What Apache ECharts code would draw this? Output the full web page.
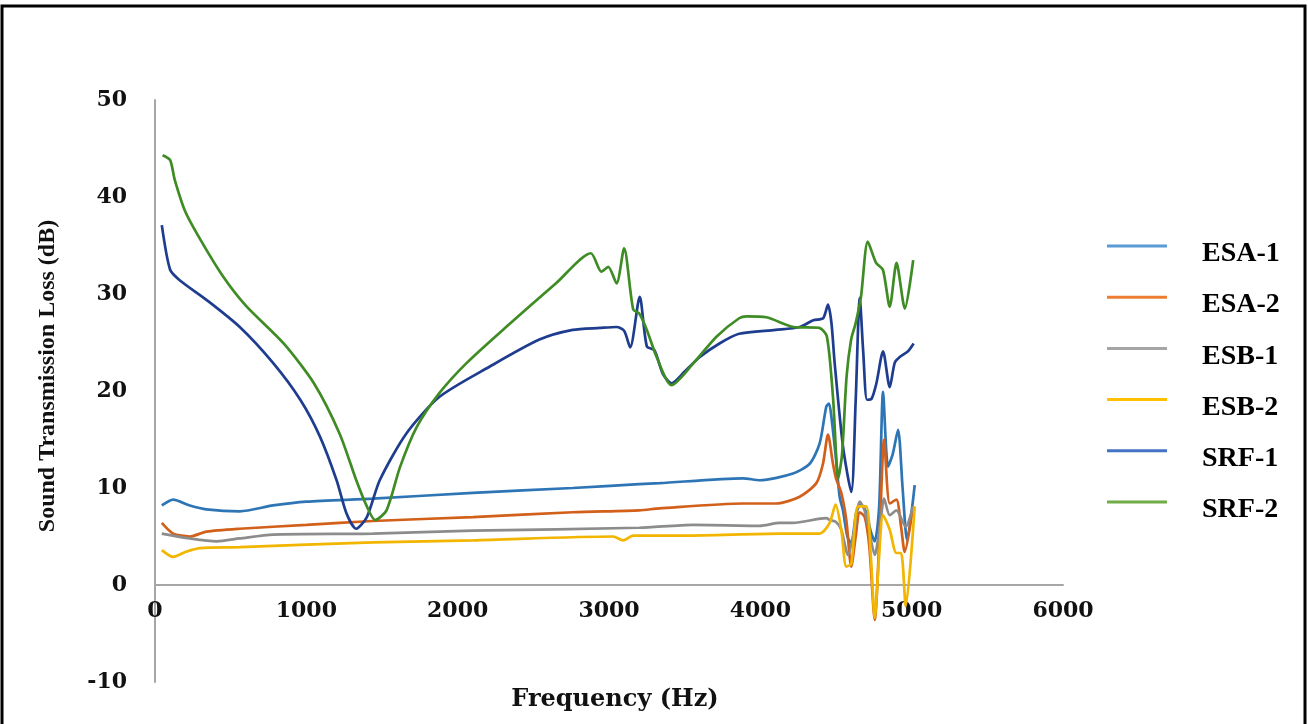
<!DOCTYPE html>
<html>
<head>
<meta charset="utf-8">
<script src="https://cdn.jsdelivr.net/npm/echarts@6/dist/echarts.min.js"></script>
<style>html,body{margin:0;padding:0;background:#fff}#c{width:1308px;height:724px}</style>
</head>
<body>
<div id="c"></div>
<script>
// ---- data ----
const seriesNames = ['ESA-1', 'ESA-2', 'ESB-1', 'ESB-2', 'SRF-1', 'SRF-2'];
const xTicks = [0, 1000, 2000, 3000, 4000, 5000, 6000];
const yTicks = [-10, 0, 10, 20, 30, 40, 50];

const esa1Freq = [45, 120, 230, 340, 560, 780, 1000, 1440, 2100, 2760, 3200, 3335, 3886, 3996, 4216, 4326, 4392, 4436, 4454, 4469, 4500, 4524, 4546, 4575, 4601, 4634, 4665, 4700, 4730, 4756, 4785, 4811, 4844, 4875, 4910, 4940, 4970, 5020];
const esa1Val  = [8.2, 8.8, 8.2, 7.8, 7.6, 8.2, 8.6, 8.9, 9.5, 10.0, 10.4, 10.5, 11.0, 10.8, 11.5, 12.5, 14.6, 18.4, 18.7, 17.4, 13.0, 9.1, 7.7, 5.0, 4.3, 7.5, 8.3, 7.5, 5.5, 4.5, 8.0, 19.9, 12.2, 13.5, 16.0, 10.0, 4.6, 10.3];

const esa2Freq = [45, 120, 230, 340, 560, 1000, 1440, 2100, 2760, 3200, 3335, 3886, 4106, 4260, 4370, 4414, 4447, 4480, 4500, 4535, 4568, 4601, 4630, 4657, 4690, 4720, 4756, 4790, 4818, 4855, 4899, 4930, 4954, 5009];
const esa2Val  = [6.4, 5.3, 5.0, 5.5, 5.8, 6.2, 6.6, 7.0, 7.5, 7.7, 7.9, 8.4, 8.4, 9.1, 10.5, 12.5, 15.5, 12.5, 11.0, 9.5, 6.7, 1.9, 5.0, 7.5, 7.0, 4.0, -3.6, 6.0, 15.0, 8.4, 8.8, 6.0, 3.4, 8.1];

const esb1Freq = [45, 230, 407, 560, 780, 1440, 2100, 3200, 3556, 3996, 4128, 4216, 4436, 4458, 4500, 4535, 4579, 4620, 4657, 4689, 4720, 4756, 4790, 4818, 4855, 4899, 4961, 5009];
const esb1Val  = [5.3, 4.8, 4.5, 4.8, 5.2, 5.3, 5.6, 5.9, 6.2, 6.1, 6.4, 6.4, 6.9, 6.7, 6.5, 5.7, 3.1, 5.5, 8.6, 7.7, 5.5, 3.1, 6.0, 8.9, 7.2, 7.7, 6.0, 8.1];

const esb2Freq = [45, 120, 200, 297, 561, 1442, 2102, 3027, 3093, 3160, 3500, 4128, 4392, 4458, 4497, 4535, 4568, 4601, 4645, 4700, 4730, 4756, 4785, 4811, 4855, 4899, 4930, 4961, 5020];
const esb2Val  = [3.6, 2.9, 3.4, 3.8, 3.9, 4.4, 4.6, 5.0, 4.6, 5.1, 5.1, 5.3, 5.3, 6.4, 8.3, 5.7, 1.9, 2.2, 8.1, 8.1, 3.0, -3.4, 3.0, 7.2, 5.7, 3.3, 3.3, -2.2, 8.1];

const srf1Freq = [45, 100, 165, 340, 560, 780, 960, 1090, 1200, 1265, 1330, 1400, 1485, 1660, 1880, 2210, 2540, 2760, 2940, 3050, 3100, 3140, 3203, 3250, 3300, 3355, 3413, 3500, 3600, 3730, 3860, 4100, 4260, 4350, 4415, 4447, 4470, 4491, 4546, 4601, 4630, 4657, 4680, 4705, 4735, 4767, 4811, 4855, 4888, 4921, 4976, 5013];
const srf1Val  = [37.1, 32.5, 31.4, 29.4, 26.6, 22.9, 19.1, 15.3, 10.8, 7.4, 5.8, 7.0, 10.8, 15.6, 19.4, 22.5, 25.3, 26.3, 26.5, 26.6, 26.2, 24.5, 29.7, 24.6, 24.2, 21.8, 20.8, 22.0, 23.5, 24.9, 25.9, 26.3, 26.6, 27.3, 27.5, 28.9, 27.0, 22.9, 14.3, 9.6, 19.0, 29.6, 24.0, 19.1, 19.2, 20.8, 24.1, 20.4, 22.9, 23.5, 24.1, 24.9];

const srf2Freq = [50, 100, 130, 200, 300, 450, 600, 850, 1050, 1220, 1330, 1400, 1455, 1530, 1620, 1730, 1880, 2060, 2320, 2650, 2880, 2950, 2995, 3050, 3100, 3160, 3200, 3250, 3315, 3413, 3560, 3710, 3860, 3910, 4040, 4220, 4390, 4440, 4480, 4515, 4540, 4570, 4600, 4630, 4665, 4710, 4765, 4810, 4855, 4900, 4955, 5010];
const srf2Val  = [44.3, 43.8, 41.8, 38.5, 35.6, 31.8, 28.8, 24.9, 20.8, 15.6, 10.8, 8.1, 6.7, 7.7, 12.2, 16.3, 19.8, 22.9, 26.6, 31.1, 34.2, 32.3, 32.8, 31.1, 34.7, 28.4, 28.0, 26.3, 23.5, 20.6, 22.9, 25.6, 27.5, 27.7, 27.6, 26.6, 26.5, 25.6, 19.4, 11.0, 13.5, 21.5, 25.3, 27.0, 29.7, 35.4, 33.2, 32.5, 28.7, 33.2, 28.5, 33.5];

const lineColors   = ['#2e75b6', '#d2601a', '#8c8c8c', '#f2b500', '#1f3d8f', '#3f8c25'];
const legendColors = ['#5b9bd5', '#ed7d31', '#a5a5a5', '#ffc000', '#4472c4', '#70ad47'];

// ---- build ----
const freqs = [esa1Freq, esa2Freq, esb1Freq, esb2Freq, srf1Freq, srf2Freq];
const vals  = [esa1Val, esa2Val, esb1Val, esb2Val, srf1Val, srf2Val];
const zip = (a, b) => a.map((x, i) => [x, b[i]]);

const chart = echarts.init(document.getElementById('c'), null, {renderer: 'canvas'});
const tickFont = {fontFamily: 'DejaVu Serif', fontWeight: 'bold', fontSize: 22, color: '#111'};

chart.setOption({
  animation: false,
  backgroundColor: '#fff',
  grid: {left: 155, right: 245, top: 100, bottom: 42, containLabel: false, outerBoundsMode: 'none'},
  xAxis: {
    type: 'value', min: 0, max: 6000, interval: 1000,
    offset: -97,
    name: 'Frequency (Hz)', nameLocation: 'middle', nameGap: 103,
    nameTextStyle: {fontFamily: 'DejaVu Serif', fontWeight: 'bold', fontSize: 24, color: '#111', padding: [0, 0, 0, 12]},
    axisLine: {onZero: false, lineStyle: {color: '#a6a6a6', width: 2}},
    axisTick: {show: false},
    splitLine: {show: false},
    axisLabel: Object.assign({margin: 15, formatter: v => xTicks.includes(v) ? String(v) : ''}, tickFont)
  },
  yAxis: {
    type: 'value', min: -10, max: 50, interval: 10,
    name: 'Sound Transmission Loss (dB)', nameLocation: 'middle', nameGap: 95,
    nameTextStyle: {fontFamily: 'Liberation Serif', fontWeight: 'bold', fontSize: 24, color: '#111', padding: [0, 0, 0, 30]},
    axisLine: {show: true, lineStyle: {color: '#a6a6a6', width: 2}},
    axisTick: {show: false},
    splitLine: {show: false},
    axisLabel: Object.assign({margin: 28, formatter: v => yTicks.includes(v) ? String(v) : ''}, tickFont)
  },
  legend: {
    orient: 'vertical', left: 1102, top: 222,
    icon: 'rect', itemWidth: 60, itemHeight: 3, itemGap: 10.2,
    data: seriesNames.map((n, i) => ({name: n, itemStyle: {color: legendColors[i]}})),
    formatter: '{s| }\n{t|{name}}',
    textStyle: {
      rich: {
        s: {fontSize: 8, lineHeight: 16, padding: [0, 0, 0, 30]},
        t: {fontFamily: 'Liberation Serif', fontWeight: 'bold', fontSize: 28, lineHeight: 30, color: '#000', padding: [0, 0, 0, 30]}
      }
    }
  },
  graphic: [{
    type: 'rect', silent: true, z: 100,
    shape: {x: 2, y: 6, width: 1303, height: 740},
    style: {fill: 'none', stroke: '#000', lineWidth: 3}
  }],
  series: seriesNames.map((n, i) => ({
    name: n, type: 'line', data: zip(freqs[i], vals[i]),
    showSymbol: false, smooth: 0.25,
    lineStyle: {color: lineColors[i], width: 2.7},
    itemStyle: {color: lineColors[i]}
  }))
});
</script>
</body>
</html>
